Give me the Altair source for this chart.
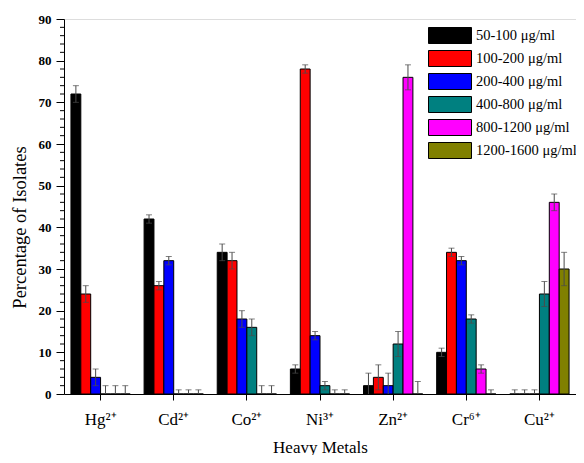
import altair as alt
import pandas as pd

metals = ["Hg²⁺", "Cd²⁺", "Co²⁺", "Ni³⁺", "Zn²⁺", "Cr⁶⁺", "Cu²⁺"]
ranges = ["50-100 μg/ml", "100-200 μg/ml", "200-400 μg/ml",
          "400-800 μg/ml", "800-1200 μg/ml", "1200-1600 μg/ml"]
colors = ["#000000", "#FF0000", "#0000FF", "#008080", "#FF00FF", "#808000"]

values = {
    "50-100 μg/ml":    [72, 42, 34, 6, 2, 10, 0],
    "100-200 μg/ml":   [24, 26, 32, 78, 4, 34, 0],
    "200-400 μg/ml":   [4, 32, 18, 14, 2, 32, 0],
    "400-800 μg/ml":   [0, 0, 16, 2, 12, 18, 24],
    "800-1200 μg/ml":  [0, 0, 0, 0, 76, 6, 46],
    "1200-1600 μg/ml": [0, 0, 0, 0, 0, 0, 30],
}
errors = {
    "50-100 μg/ml":    [2, 1, 2, 1, 3, 1, 1],
    "100-200 μg/ml":   [2, 1, 2, 1, 3, 1, 1],
    "200-400 μg/ml":   [2, 1, 2, 1, 3, 1, 1],
    "400-800 μg/ml":   [2, 1, 2, 1, 3, 1, 3],
    "800-1200 μg/ml":  [2, 1, 2, 1, 3, 1, 2],
    "1200-1600 μg/ml": [2, 1, 2, 1, 3, 1, 4],
}
y_ticks = list(range(0, 91, 10))
y_minor = [v for v in range(0, 91, 2) if v % 10 != 0]

rows = []
for r in ranges:
    for m, v, e in zip(metals, values[r], errors[r]):
        rows.append({"metal": m, "range": r, "value": v, "lo": v - e, "hi": v + e})
df = pd.DataFrame(rows)
minor_df = pd.DataFrame({"m": y_minor})

FONT = "Liberation Serif"
yscale = alt.Scale(domain=[0, 90], nice=False, zero=True)
xscale = alt.Scale(paddingInner=0.19, paddingOuter=0.095)
xaxis = alt.Axis(title="Heavy Metals", labelAngle=0)
yaxis = alt.Axis(title="Percentage of Isolates", values=y_ticks, titleY=208)
xoff = alt.XOffset("range:N", sort=ranges, scale=alt.Scale(paddingInner=0, paddingOuter=0))

bars = alt.Chart(df).mark_bar(stroke="black", strokeWidth=1).encode(
    x=alt.X("metal:N", sort=metals, scale=xscale, axis=xaxis),
    xOffset=xoff,
    y=alt.Y("value:Q", scale=yscale, axis=yaxis),
    color=alt.Color("range:N", sort=ranges,
                    scale=alt.Scale(domain=ranges, range=colors),
                    legend=alt.Legend(title=None, orient="none", legendX=364, legendY=8,
                                      padding=0, rowPadding=2,
                                      symbolType="M-1,-1H4.375V1H-1Z", symbolSize=256,
                                      symbolStrokeColor="black", symbolStrokeWidth=1,
                                      symbolOpacity=1,
                                      labelFont=FONT, labelFontSize=14.5,
                                      labelColor="black", labelOffset=31,
                                      labelLimit=200)),
)

err_color = "#4a4a4a"
rule = alt.Chart(df).mark_rule(color=err_color, strokeWidth=1, clip=True).encode(
    x=alt.X("metal:N", sort=metals, scale=xscale, axis=xaxis),
    xOffset=xoff,
    y=alt.Y("lo:Q", scale=yscale, axis=yaxis),
    y2="hi:Q",
)
cap_hi = alt.Chart(df).mark_tick(color=err_color, size=6, thickness=1, clip=True).encode(
    x=alt.X("metal:N", sort=metals, scale=xscale, axis=xaxis),
    xOffset=xoff,
    y=alt.Y("hi:Q", scale=yscale, axis=yaxis),
)
cap_lo = alt.Chart(df).mark_tick(color=err_color, size=6, thickness=1, clip=True).encode(
    x=alt.X("metal:N", sort=metals, scale=xscale, axis=xaxis),
    xOffset=xoff,
    y=alt.Y("lo:Q", scale=yscale, axis=yaxis),
)
minor = alt.Chart(minor_df).mark_rule(color="black", strokeWidth=1).encode(
    x=alt.value(-4), x2=alt.value(0),
    y=alt.Y("m:Q", scale=yscale, axis=yaxis),
)

chart = alt.layer(bars, rule, cap_hi, cap_lo, minor).properties(
    width=512, height=375,
    autosize=alt.AutoSizeParams(type="none"),
    padding={"left": 56, "top": 11, "right": 0, "bottom": 61},
).configure_view(stroke=None).configure(background="white").configure_axis(
    grid=False, tickColor="black", domainColor="black", labelColor="black",
    labelFont=FONT, titleFont=FONT, titleFontWeight="normal", titleColor="black",
).configure_axisX(
    labelFontSize=17, labelPadding=11, tickSize=6, titleFontSize=17, titlePadding=12,
).configure_axisY(
    labelFontSize=13, labelFontWeight="bold", labelPadding=5, tickSize=8,
    titleFontSize=18.5, titlePadding=9,
)

chart.save("out.html", embed_options={"renderer": "svg", "actions": False})
